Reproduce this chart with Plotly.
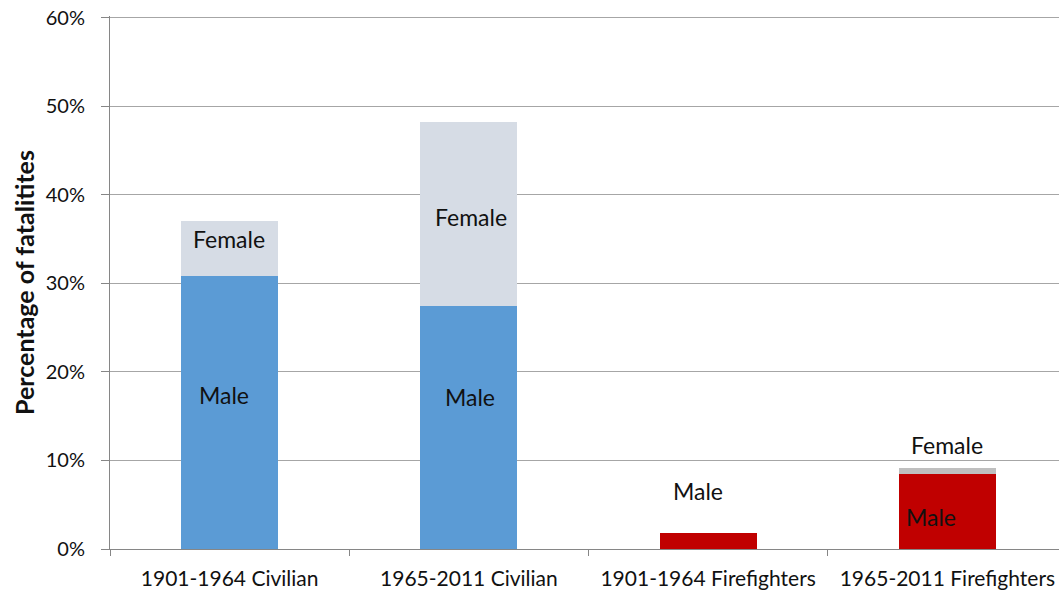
import plotly.graph_objects as go

categories = ["1901-1964 Civilian", "1965-2011 Civilian",
              "1901-1964 Firefighters", "1965-2011 Firefighters"]
male = [0.308, 0.274, 0.018, 0.085]
female = [0.062, 0.208, 0.0, 0.006]

male_colors = ["#5B9BD5", "#5B9BD5", "#C00000", "#C00000"]
female_colors = ["#D6DCE5", "#D6DCE5", "#BFBFBF", "#BFBFBF"]

# hand-placed text boxes, like the original
labels = [
    (0, "Female", 0.350, -1), (0, "Male", 0.174, -6),
    (1, "Female", 0.375, 2), (1, "Male", 0.172, 1),
    (2, "Male", 0.065, -10),
    (3, "Female", 0.118, 0), (3, "Male", 0.036, -16),
]

font = "Lato, 'Open Sans', sans-serif"

fig = go.Figure()
fig.add_trace(go.Bar(x=categories, y=male, name="Male",
                     marker=dict(color=male_colors, line=dict(width=0)),
                     width=0.405))
fig.add_trace(go.Bar(x=categories, y=female, name="Female",
                     marker=dict(color=female_colors, line=dict(width=0)),
                     width=0.405))

for i, txt, yv, dx in labels:
    fig.add_annotation(x=categories[i], y=yv, text=txt, showarrow=False,
                       xshift=dx, font=dict(size=23, color="#111111"))

# original is cropped on the right, so the plot runs a bit past the window
fig.update_layout(
    barmode="stack",
    width=1067, height=591,
    margin=dict(l=110, r=0, t=16, b=42, autoexpand=False),
    paper_bgcolor="white", plot_bgcolor="white",
    showlegend=False,
    font=dict(family=font, size=20, color="#111111"),
)
fig.update_xaxes(
    showline=True, linecolor="#868686", linewidth=1,
    ticks="outside", tickson="boundaries", ticklen=6, tickcolor="#868686",
    ticklabelstandoff=11,
    tickfont=dict(size=21), showgrid=False, automargin=False,
)
fig.update_yaxes(
    # top a hair above 60% so the last gridline still gets drawn
    range=[0, 0.602], tickvals=[0, 0.1, 0.2, 0.3, 0.4, 0.5, 0.6], tickformat=".0%",
    showline=True, linecolor="#868686", linewidth=1,
    ticks="outside", ticklen=8, tickcolor="#868686", ticklabelstandoff=12,
    ticklabeloverflow="allow",
    showgrid=True, gridcolor="#A6A6A6", gridwidth=1,
    zeroline=False, tickfont=dict(size=20), automargin=False,
    title=dict(text="<b>Percentage of fatalitites</b>", font=dict(size=25), standoff=4),
)

# drop the default page margin / scrollbars so the chart fills the window
page_js = ("document.documentElement.style.overflow='hidden';"
           "document.body.style.margin='0';document.body.style.overflow='hidden';")

fig.write_html("out.html", post_script=page_js, config={"displayModeBar": False})
